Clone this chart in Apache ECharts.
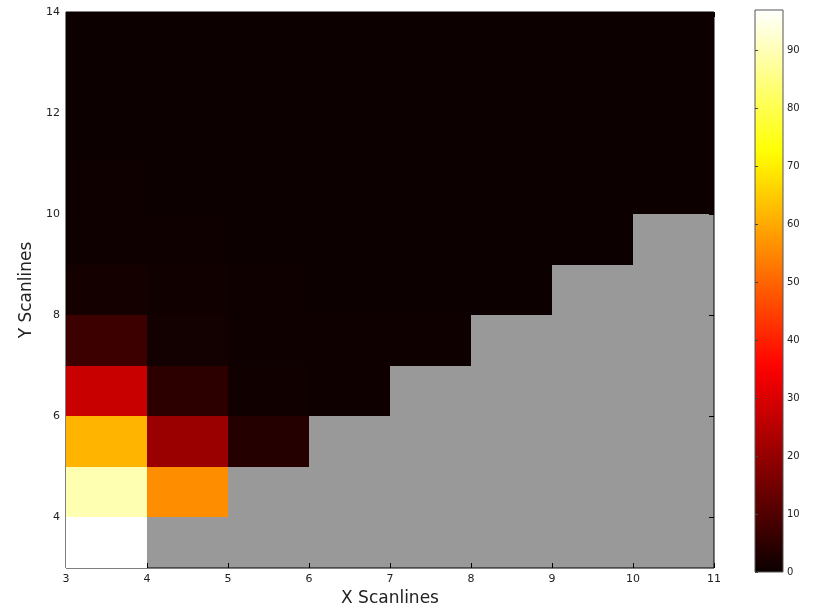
<!DOCTYPE html>
<html>
<head>
<meta charset="utf-8">
<script src="https://cdn.jsdelivr.net/npm/echarts@6/dist/echarts.min.js"></script>
<style>
html,body{margin:0;padding:0;background:#fff;}
#c{width:817px;height:612px;}
</style>
</head>
<body>
<div id="c"></div>
<script>
// Column values, each column starts at y = column x and goes up to y = 13 (cell 13..14)
var xCells = [3, 4, 5, 6, 7, 8, 9, 10];
var col3  = [97, 89.5, 61.5, 27.5, 7.2, 1.5, 0.6, 0.4, 0.3, 0.3, 0.2];
var col4  = [55.8, 21, 5, 1.2, 0.9, 0.4, 0.3, 0.3, 0.2, 0.2];
var col5  = [3.8, 0.8, 0.5, 0.4, 0.3, 0.3, 0.2, 0.2, 0.2];
var col6  = [0.6, 0.4, 0.3, 0.3, 0.2, 0.2, 0.2, 0.2];
var col7  = [0.4, 0.3, 0.3, 0.2, 0.2, 0.2, 0.2];
var col8  = [0.3, 0.3, 0.2, 0.2, 0.2, 0.2];
var col9  = [0.3, 0.2, 0.2, 0.2, 0.2];
var col10 = [0.2, 0.2, 0.2, 0.2];
var columns = [col3, col4, col5, col6, col7, col8, col9, col10];

var xTicks = [3, 4, 5, 6, 7, 8, 9, 10, 11];
var yTicks = [4, 6, 8, 10, 12, 14];
var cbTicks = [0, 10, 20, 30, 40, 50, 60, 70, 80, 90];
var vMin = 0, vMax = 97;

// matplotlib 'hot' colormap
function hot(t) {
  var r = Math.min(1, 0.0416 + (1 - 0.0416) * t / 0.365079);
  var g = Math.max(0, Math.min(1, (t - 0.365079) / (0.746032 - 0.365079)));
  var b = Math.max(0, Math.min(1, (t - 0.746032) / (1 - 0.746032)));
  return 'rgb(' + Math.round(r * 255) + ',' + Math.round(g * 255) + ',' + Math.round(b * 255) + ')';
}
var palette = [];
for (var i = 0; i <= 40; i++) palette.push(hot(i / 40));
var stops = [];
for (var j = 0; j <= 40; j++) stops.push({ offset: j / 40, color: hot(1 - j / 40) });

var data = [];
columns.forEach(function (col, ci) {
  var x = xCells[ci];
  col.forEach(function (v, k) { data.push([x, x + k, v]); });
});

var labelStyle = { color: '#222', fontSize: 11, fontFamily: 'DejaVu Sans' };

var chart = echarts.init(document.getElementById('c'), null, { renderer: 'canvas' });
chart.setOption({
  animation: false,
  backgroundColor: '#fff',
  grid: [
    { left: 66, right: 103, top: 12, bottom: 39, show: true, backgroundColor: '#999999', borderColor: '#000', borderWidth: 1 },
    { left: 755, width: 28, top: 10, bottom: 40, show: true,
      backgroundColor: { type: 'linear', x: 0, y: 0, x2: 0, y2: 1, colorStops: stops },
      borderColor: '#555', borderWidth: 1 }
  ],
  xAxis: [
    { type: 'value', gridIndex: 0, min: 3, max: 11, interval: 1,
      name: 'X Scanlines', nameLocation: 'middle', nameGap: 22,
      nameTextStyle: { fontSize: 17, fontFamily: 'DejaVu Sans', color: '#222' },
      axisLine: { show: false }, splitLine: { show: false },
      axisTick: { inside: true, length: 5, lineStyle: { color: '#000' } },
      axisLabel: Object.assign({ margin: 6 }, labelStyle) },
    { type: 'value', gridIndex: 0, position: 'top', min: 3, max: 11, interval: 1,
      axisLine: { show: false }, splitLine: { show: false },
      axisTick: { inside: true, length: 5, lineStyle: { color: '#000' } },
      axisLabel: { show: false } },
    { type: 'value', gridIndex: 1, min: 0, max: 1, show: false }
  ],
  yAxis: [
    { type: 'value', gridIndex: 0, min: 3, max: 14,
      name: 'Y Scanlines', nameLocation: 'middle', nameGap: 25,
      nameTextStyle: { fontSize: 17, fontFamily: 'DejaVu Sans', color: '#222' },
      axisLine: { show: false }, splitLine: { show: false },
      axisTick: { inside: true, length: 5, customValues: yTicks, lineStyle: { color: '#000' } },
      axisLabel: Object.assign({ margin: 6, customValues: yTicks }, labelStyle) },
    { type: 'value', gridIndex: 0, position: 'right', min: 3, max: 14,
      axisLine: { show: false }, splitLine: { show: false },
      axisTick: { inside: true, length: 5, customValues: yTicks, lineStyle: { color: '#000' } },
      axisLabel: { show: false } },
    { type: 'value', gridIndex: 1, position: 'right', min: vMin, max: vMax,
      axisLine: { show: false }, splitLine: { show: false },
      axisTick: { inside: false, length: 3, customValues: cbTicks, lineStyle: { color: '#444' } },
      axisLabel: Object.assign({ margin: 4, customValues: cbTicks }, labelStyle, { fontSize: 10 }) }
  ],
  visualMap: {
    show: false, type: 'continuous', min: vMin, max: vMax, dimension: 2,
    seriesIndex: 0, inRange: { color: palette }
  },
  series: [{
    type: 'custom', xAxisIndex: 0, yAxisIndex: 0,
    encode: { x: 0, y: 1 },
    data: data,
    renderItem: function (params, api) {
      var x = api.value(0), y = api.value(1);
      var p0 = api.coord([x, y + 1]);
      var p1 = api.coord([x + 1, y]);
      var x0 = Math.round(p0[0]), y0 = Math.round(p0[1]);
      var x1 = Math.round(p1[0]), y1 = Math.round(p1[1]);
      return {
        type: 'rect',
        shape: { x: x0, y: y0, width: x1 - x0, height: y1 - y0 },
        style: { fill: api.visual('color') }
      };
    }
  }]
});
</script>
</body>
</html>
